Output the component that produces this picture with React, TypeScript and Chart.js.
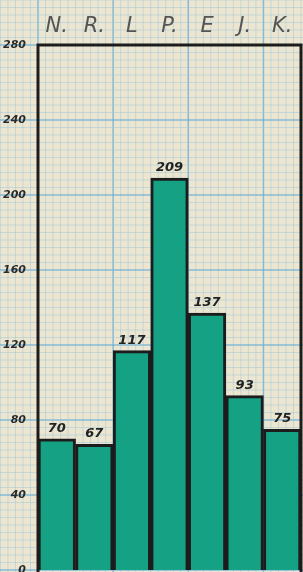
import React, { useEffect, useRef } from "react";
import { Chart, registerables } from "chart.js";

Chart.register(...registerables);

const categories = ["N.", "R.", "L", "P.", "E", "J.", "K."];
const values = [70, 67, 117, 209, 137, 93, 75];
const yTicks = [0, 40, 80, 120, 160, 200, 240, 280];

const paperPlugin = {
  id: "paper",
  beforeDraw(chart: any) {
    const { ctx, width, height } = chart;
    const xs = chart.scales.x;
    const ys = chart.scales.y;
    ctx.save();
    ctx.fillStyle = "#ece6d0";
    ctx.fillRect(0, 0, width, height);
    const perBar = (xs.right - xs.left) / categories.length;
    const minorX = perBar / 5;
    const left = xs.left;
    for (let k = -20; k <= 60; k++) {
      const x = left + k * minorX;
      if (x < -2 || x > width + 2) continue;
      const major = k % 10 === 0;
      ctx.strokeStyle = major ? "rgba(110,175,215,0.8)" : "rgba(150,195,222,0.45)";
      ctx.lineWidth = major ? 1.5 : 1;
      ctx.beginPath();
      ctx.moveTo(x, 0);
      ctx.lineTo(x, height);
      ctx.stroke();
    }
    for (let v = -20; v <= 320; v += 4) {
      const y = ys.getPixelForValue(v);
      if (y < -2 || y > height + 2) continue;
      const major = v % 40 === 0;
      ctx.strokeStyle = major ? "rgba(110,175,215,0.8)" : "rgba(150,195,222,0.45)";
      ctx.lineWidth = major ? 1.5 : 1;
      ctx.beginPath();
      ctx.moveTo(0, y);
      ctx.lineTo(width, y);
      ctx.stroke();
    }
    ctx.restore();
  },
  afterDatasetsDraw(chart: any) {
    const { ctx, chartArea } = chart;
    const meta = chart.getDatasetMeta(0);
    ctx.save();
    ctx.fillStyle = "#222";
    ctx.font = "italic bold 13px 'DejaVu Sans', sans-serif";
    ctx.textAlign = "center";
    ctx.textBaseline = "bottom";
    meta.data.forEach((bar: any, i: number) => {
      ctx.fillText(String(values[i]), bar.x, bar.y - 4);
    });
    ctx.strokeStyle = "#1c1c1c";
    ctx.lineWidth = 3;
    ctx.beginPath();
    ctx.moveTo(chartArea.left, chartArea.bottom + 4);
    ctx.lineTo(chartArea.left, chartArea.top);
    ctx.lineTo(chartArea.right, chartArea.top);
    ctx.lineTo(chartArea.right, chartArea.bottom + 4);
    ctx.stroke();
    ctx.restore();
  },
};

export default function App() {
  const ref = useRef<HTMLCanvasElement>(null);
  useEffect(() => {
    document.body.style.margin = "0";
    const chart = new Chart(ref.current!, {
      type: "bar",
      data: {
        labels: categories,
        datasets: [
          {
            data: values,
            backgroundColor: "#14a184",
            borderColor: "#1c1c1c",
            borderWidth: 3,
            categoryPercentage: 1,
            barPercentage: 1,
            borderSkipped: "bottom",
          },
        ],
      },
      options: {
        responsive: false,
        animation: false,
        layout: { padding: { left: 0, right: 2, top: 0, bottom: 2 } },
        plugins: { legend: { display: false }, tooltip: { enabled: false } },
        scales: {
          x: {
            position: "top",
            grid: { display: false },
            border: { display: false },
            ticks: {
              color: "#555",
              font: { family: "'DejaVu Sans', sans-serif", size: 21, style: "italic" },
              padding: -2,
              maxRotation: 0,
            },
            afterFit: (s: any) => {
              s.height = 45;
            },
          },
          y: {
            min: 0,
            max: 280,
            afterBuildTicks: (s: any) => {
              s.ticks = yTicks.map((v) => ({ value: v }));
            },
            grid: { display: false },
            border: { display: false },
            ticks: {
              color: "#2a2a2a",
              font: { family: "'DejaVu Sans', sans-serif", size: 11, style: "italic", weight: "bold" },
              padding: 4,
            },
            afterFit: (s: any) => {
              s.width = 38;
              s.paddingTop = 0;
              s.paddingBottom = 0;
            },
          },
        },
      },
      plugins: [paperPlugin],
    } as any);
    return () => chart.destroy();
  }, []);
  return <canvas ref={ref} width={303} height={572} style={{ display: "block" }} />;
}
